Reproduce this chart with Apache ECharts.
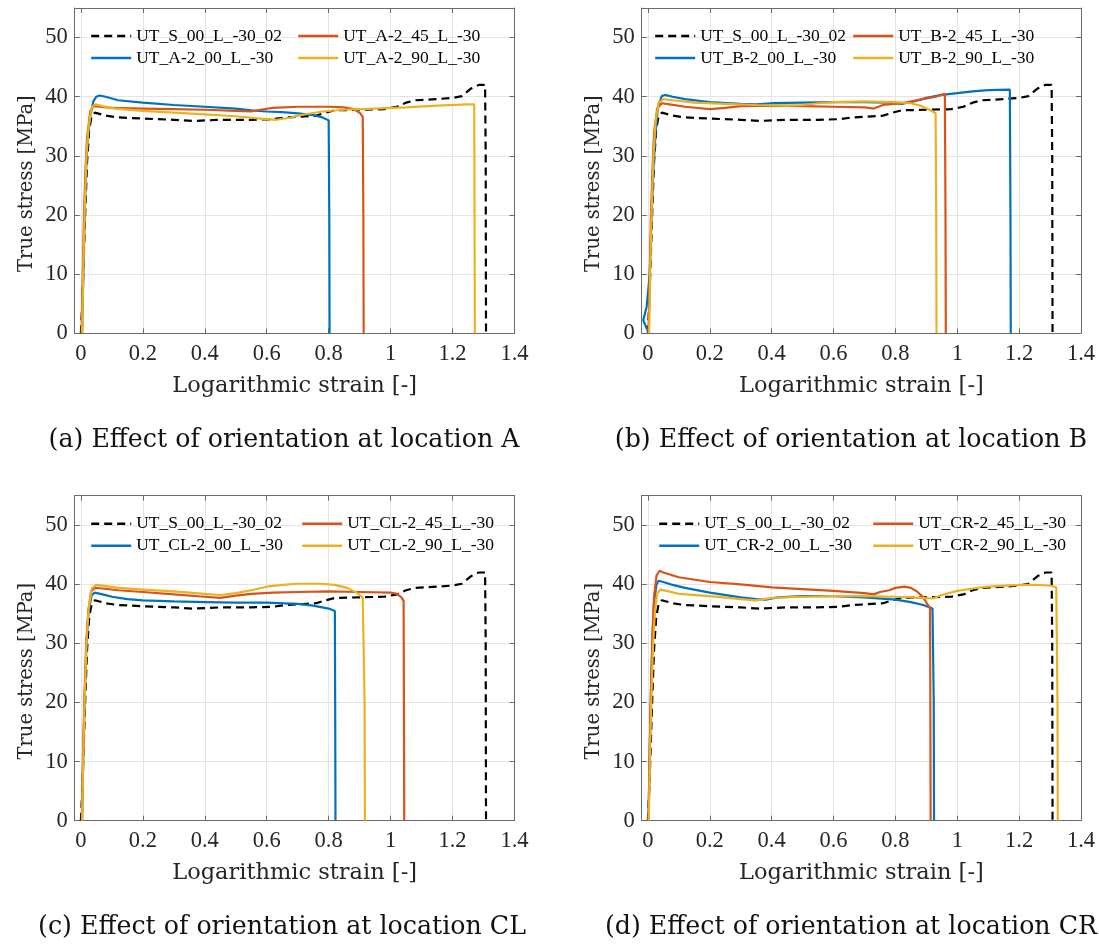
<!DOCTYPE html>
<html>
<head>
<meta charset="utf-8">
<script src="https://cdn.jsdelivr.net/npm/echarts@6/dist/echarts.min.js"></script>
<style>
  html, body { margin: 0; padding: 0; background: #ffffff; }
  #chart { width: 1099px; height: 945px; }
</style>
</head>
<body>
<div id="chart"></div>
<script>
// ---- tick values -------------------------------------------------------
const strainTicks = [0, 0.2, 0.4, 0.6, 0.8, 1, 1.2, 1.4];
const stressTicks = [0, 10, 20, 30, 40, 50];

// ---- curves: [logarithmic strain, true stress (MPa)] -------------------
// reference specimen, shown dashed in every panel
const refS00 = [[0,0],[0.005,6],[0.01,14],[0.015,22],[0.02,29],[0.027,34.5],[0.035,36.8],[0.045,37.3],[0.06,37.1],[0.08,36.8],[0.12,36.5],[0.2,36.3],[0.3,36.1],[0.36,35.9],[0.45,36.1],[0.55,36.1],[0.62,36.2],[0.66,36.5],[0.7,36.6],[0.76,36.8],[0.79,37.3],[0.82,37.7],[0.9,37.8],[0.98,37.9],[1.02,38.3],[1.05,39.0],[1.08,39.4],[1.15,39.6],[1.2,39.8],[1.23,40.1],[1.26,41.4],[1.285,42.0],[1.305,42.0],[1.307,30],[1.308,0]];

// location A
const a00 = [[0.004,0],[0.008,10],[0.012,20],[0.017,28],[0.022,33],[0.03,36.5],[0.04,39.2],[0.05,40.0],[0.06,40.2],[0.08,40.0],[0.12,39.4],[0.2,39.0],[0.3,38.6],[0.4,38.3],[0.5,38.0],[0.55,37.7],[0.6,37.5],[0.65,37.4],[0.7,37.2],[0.75,36.9],[0.78,36.5],[0.8,36.0],[0.802,20],[0.803,0]];
const a45 = [[0.002,0],[0.006,10],[0.01,20],[0.015,28],[0.02,33],[0.03,37.5],[0.04,38.4],[0.06,38.3],[0.1,38.1],[0.2,38.0],[0.3,37.9],[0.4,37.8],[0.5,37.6],[0.55,37.5],[0.58,37.8],[0.62,38.1],[0.7,38.3],[0.8,38.3],[0.85,38.2],[0.88,37.9],[0.9,37.3],[0.91,36.6],[0.912,20],[0.913,0]];
const a90 = [[0.004,0],[0.008,12],[0.013,22],[0.018,30],[0.025,35],[0.035,38.2],[0.047,38.7],[0.07,38.4],[0.11,38.0],[0.2,37.6],[0.3,37.3],[0.4,37.0],[0.5,36.7],[0.58,36.3],[0.63,36.1],[0.67,36.4],[0.72,37.0],[0.78,37.5],[0.85,37.8],[0.95,38.0],[1.05,38.2],[1.15,38.5],[1.25,38.7],[1.27,38.7],[1.271,20],[1.272,0]];

// location B
const b00 = [[0.003,0],[-0.015,2.2],[-0.004,4.5],[0.006,10],[0.012,20],[0.018,28],[0.025,34],[0.033,38.5],[0.045,40.1],[0.055,40.3],[0.08,40.0],[0.12,39.6],[0.2,39.1],[0.3,38.8],[0.35,38.7],[0.4,38.9],[0.5,39.0],[0.6,39.1],[0.7,39.1],[0.78,39.0],[0.82,38.8],[0.86,39.2],[0.9,39.8],[0.95,40.3],[1.0,40.6],[1.05,40.9],[1.1,41.1],[1.17,41.2],[1.172,20],[1.173,0]];
const b45 = [[0.002,0],[0.006,10],[0.01,20],[0.015,28],[0.02,34],[0.03,38],[0.045,38.9],[0.07,38.7],[0.12,38.3],[0.2,37.9],[0.25,38.1],[0.3,38.4],[0.4,38.5],[0.5,38.4],[0.6,38.3],[0.7,38.2],[0.73,38.0],[0.76,38.6],[0.82,38.9],[0.88,39.5],[0.93,40.0],[0.96,40.5],[0.962,20],[0.963,0]];
const b90 = [[0.004,0],[0.008,12],[0.013,22],[0.018,30],[0.025,36],[0.035,39.0],[0.05,39.6],[0.08,39.4],[0.15,39.0],[0.25,38.8],[0.35,38.6],[0.45,38.5],[0.5,38.6],[0.55,38.9],[0.6,39.1],[0.7,39.2],[0.8,39.1],[0.85,38.9],[0.88,38.5],[0.91,37.8],[0.93,37.2],[0.932,20],[0.933,0]];

// location CL
const cl00 = [[0.004,0],[0.008,12],[0.013,22],[0.018,30],[0.025,35.5],[0.035,38.2],[0.045,38.6],[0.07,38.3],[0.1,37.9],[0.15,37.5],[0.2,37.3],[0.3,37.1],[0.4,37.0],[0.5,36.9],[0.6,36.9],[0.7,36.7],[0.75,36.4],[0.8,35.9],[0.82,35.5],[0.821,20],[0.822,0]];
const cl45 = [[0.003,0],[0.007,12],[0.012,22],[0.017,30],[0.024,35.5],[0.033,38.8],[0.045,39.4],[0.07,39.3],[0.12,39.0],[0.2,38.7],[0.3,38.3],[0.4,37.9],[0.45,37.7],[0.5,38.1],[0.55,38.4],[0.62,38.6],[0.7,38.7],[0.8,38.8],[0.9,38.7],[1.0,38.6],[1.02,38.4],[1.035,37.8],[1.042,37.2],[1.043,20],[1.044,0]];
const cl90 = [[0.004,0],[0.008,12],[0.013,22],[0.018,30],[0.025,36],[0.035,39.3],[0.05,39.9],[0.08,39.7],[0.12,39.4],[0.2,39.1],[0.3,38.8],[0.4,38.4],[0.45,38.2],[0.5,38.5],[0.55,39.0],[0.6,39.6],[0.65,39.9],[0.7,40.1],[0.78,40.1],[0.82,39.9],[0.86,39.4],[0.89,38.6],[0.91,37.8],[0.915,37.5],[0.916,20],[0.917,0]];

// location CR
const cr00 = [[0.002,0],[0.006,12],[0.01,22],[0.015,31],[0.02,37],[0.028,40.0],[0.035,40.6],[0.05,40.4],[0.08,39.9],[0.12,39.4],[0.2,38.6],[0.3,37.8],[0.35,37.5],[0.38,37.4],[0.42,37.8],[0.5,38.0],[0.6,38.0],[0.7,37.8],[0.8,37.4],[0.85,37.0],[0.89,36.5],[0.92,35.9],[0.924,20],[0.925,0]];
const cr45 = [[0.002,0],[0.006,12],[0.01,22],[0.015,32],[0.02,38],[0.028,41.5],[0.038,42.3],[0.05,42.0],[0.1,41.2],[0.2,40.4],[0.3,40.0],[0.4,39.5],[0.5,39.2],[0.6,38.9],[0.7,38.5],[0.73,38.3],[0.75,38.7],[0.78,39.0],[0.8,39.4],[0.83,39.6],[0.85,39.4],[0.87,38.8],[0.89,37.8],[0.905,36.5],[0.912,36.0],[0.913,20],[0.914,0]];
const cr90 = [[0.003,0],[0.007,12],[0.012,22],[0.017,30],[0.023,35.5],[0.03,38.5],[0.04,39.1],[0.06,38.9],[0.1,38.4],[0.2,38.0],[0.3,37.5],[0.35,37.3],[0.4,37.7],[0.5,37.9],[0.6,38.0],[0.7,38.0],[0.8,37.9],[0.88,37.7],[0.92,37.6],[0.95,38.2],[1.0,38.9],[1.05,39.3],[1.1,39.6],[1.2,39.9],[1.25,39.9],[1.3,39.8],[1.32,39.5],[1.324,20],[1.325,0]];

// ---- series names ------------------------------------------------------
const refName = 'UT_S_00_L_-30_02';
const namesA  = ['UT_A-2_00_L_-30', 'UT_A-2_45_L_-30', 'UT_A-2_90_L_-30'];
const namesB  = ['UT_B-2_00_L_-30', 'UT_B-2_45_L_-30', 'UT_B-2_90_L_-30'];
const namesCL = ['UT_CL-2_00_L_-30', 'UT_CL-2_45_L_-30', 'UT_CL-2_90_L_-30'];
const namesCR = ['UT_CR-2_00_L_-30', 'UT_CR-2_45_L_-30', 'UT_CR-2_90_L_-30'];

const captions = [
  '(a) Effect of orientation at location A',
  '(b) Effect of orientation at location B',
  '(c) Effect of orientation at location CL',
  '(d) Effect of orientation at location CR'
];

// ---- layout / style ----------------------------------------------------
const colors = { ref: '#000000', o00: '#0072BD', o45: '#D95319', o90: '#EDB120' };
const serifNum  = 'Liberation Serif';
const serifText = 'DejaVu Serif';
const axisColor = '#6a6a6a';
const gridColor = '#e4e4e4';
const xMin = -0.02, xMax = 1.4, yMin = 0, yMax = 55;

const panels = [
  { rect: { left: 74.7,  top: 8,     width: 439.8, height: 325.3 }, curves: [a00, a45, a90],    names: namesA,  legendX: [90, 297],  cap: [284, 440] },
  { rect: { left: 641.7, top: 8,     width: 439.3, height: 325.3 }, curves: [b00, b45, b90],    names: namesB,  legendX: [654, 852], cap: [851, 440] },
  { rect: { left: 74.7,  top: 495.7, width: 439.8, height: 325.0 }, curves: [cl00, cl45, cl90], names: namesCL, legendX: [90, 301],  cap: [282, 927] },
  { rect: { left: 641.7, top: 495.7, width: 439.3, height: 325.0 }, curves: [cr00, cr45, cr90], names: namesCR, legendX: [658, 872], cap: [851, 927] }
];

const grid = [], xAxis = [], yAxis = [], series = [], legend = [], graphic = [];

panels.forEach((p, i) => {
  grid.push(Object.assign({ containLabel: false }, p.rect));

  // bottom axis (with labels) and top axis (ticks only)
  xAxis.push({
    type: 'value', gridIndex: i, min: xMin, max: xMax, position: 'bottom',
    name: 'Logarithmic strain [-]', nameLocation: 'middle', nameGap: 41,
    nameTextStyle: { fontFamily: serifText, fontSize: 22.5, color: '#262626' },
    axisLine: { show: true, onZero: false, lineStyle: { color: axisColor, width: 1 } },
    axisTick: { show: true, inside: true, length: 5, customValues: strainTicks, lineStyle: { color: axisColor } },
    axisLabel: { show: true, customValues: strainTicks, margin: 9, fontFamily: serifNum, fontSize: 22.5, color: '#262626' },
    splitLine: { show: true, lineStyle: { color: gridColor, width: 1 } }
  });
  xAxis.push({
    type: 'value', gridIndex: i, min: xMin, max: xMax, position: 'top',
    axisLine: { show: true, onZero: false, lineStyle: { color: axisColor, width: 1 } },
    axisTick: { show: true, inside: true, length: 5, customValues: strainTicks, lineStyle: { color: axisColor } },
    axisLabel: { show: false },
    splitLine: { show: false }
  });

  // left axis (with labels) and right axis (ticks only)
  yAxis.push({
    type: 'value', gridIndex: i, min: yMin, max: yMax, position: 'left',
    name: 'True stress [MPa]', nameLocation: 'middle', nameGap: 38,
    nameTextStyle: { fontFamily: serifText, fontSize: 19.5, color: '#262626', padding: [0, 26, 0, 0] },
    axisLine: { show: true, onZero: false, lineStyle: { color: axisColor, width: 1 } },
    axisTick: { show: true, inside: true, length: 5, customValues: stressTicks, lineStyle: { color: axisColor } },
    axisLabel: { show: true, customValues: stressTicks, margin: 7, fontFamily: serifNum, fontSize: 22.5, color: '#262626' },
    splitLine: { show: true, lineStyle: { color: gridColor, width: 1 } }
  });
  yAxis.push({
    type: 'value', gridIndex: i, min: yMin, max: yMax, position: 'right',
    axisLine: { show: true, onZero: false, lineStyle: { color: axisColor, width: 1 } },
    axisTick: { show: true, inside: true, length: 5, customValues: stressTicks, lineStyle: { color: axisColor } },
    axisLabel: { show: false },
    splitLine: { show: false }
  });

  const xi = 2 * i, yi = 2 * i;
  const mk = (name, data, color, dashed) => ({
    type: 'line', name, data, xAxisIndex: xi, yAxisIndex: yi,
    showSymbol: false, symbol: 'none', smooth: false, animation: false, clip: true,
    lineStyle: { color, width: 2.2, type: dashed ? [8, 5] : 'solid' },
    itemStyle: { color }
  });
  series.push(mk(refName, refS00, colors.ref, true));
  series.push(mk(p.names[0], p.curves[0], colors.o00, false));
  series.push(mk(p.names[1], p.curves[1], colors.o45, false));
  series.push(mk(p.names[2], p.curves[2], colors.o90, false));

  // two-column legend inside the top of each panel (line samples only)
  const legTop = p.rect.top + 19;
  const legBase = {
    orient: 'vertical', top: legTop, padding: 0, itemGap: 4,
    itemWidth: 40, itemHeight: 14, selectedMode: false,
    backgroundColor: 'transparent',
    itemStyle: { opacity: 0, borderWidth: 0 },
    lineStyle: { width: 2.4 },
    textStyle: { fontFamily: serifNum, fontSize: 17.5, color: '#000' }
  };
  legend.push(Object.assign({}, legBase, { left: p.legendX[0], data: [refName, p.names[0]] }));
  legend.push(Object.assign({}, legBase, { left: p.legendX[1], data: [p.names[1], p.names[2]] }));

  graphic.push({
    type: 'text', x: p.cap[0], y: p.cap[1], silent: true,
    style: { text: captions[i], fill: '#111', fontFamily: serifText, fontSize: 25.3, align: 'center', verticalAlign: 'middle' }
  });
});

const chart = echarts.init(document.getElementById('chart'), null, { renderer: 'canvas' });
chart.setOption({
  backgroundColor: '#ffffff',
  animation: false,
  grid, xAxis, yAxis, series, legend, graphic
});
</script>
</body>
</html>
